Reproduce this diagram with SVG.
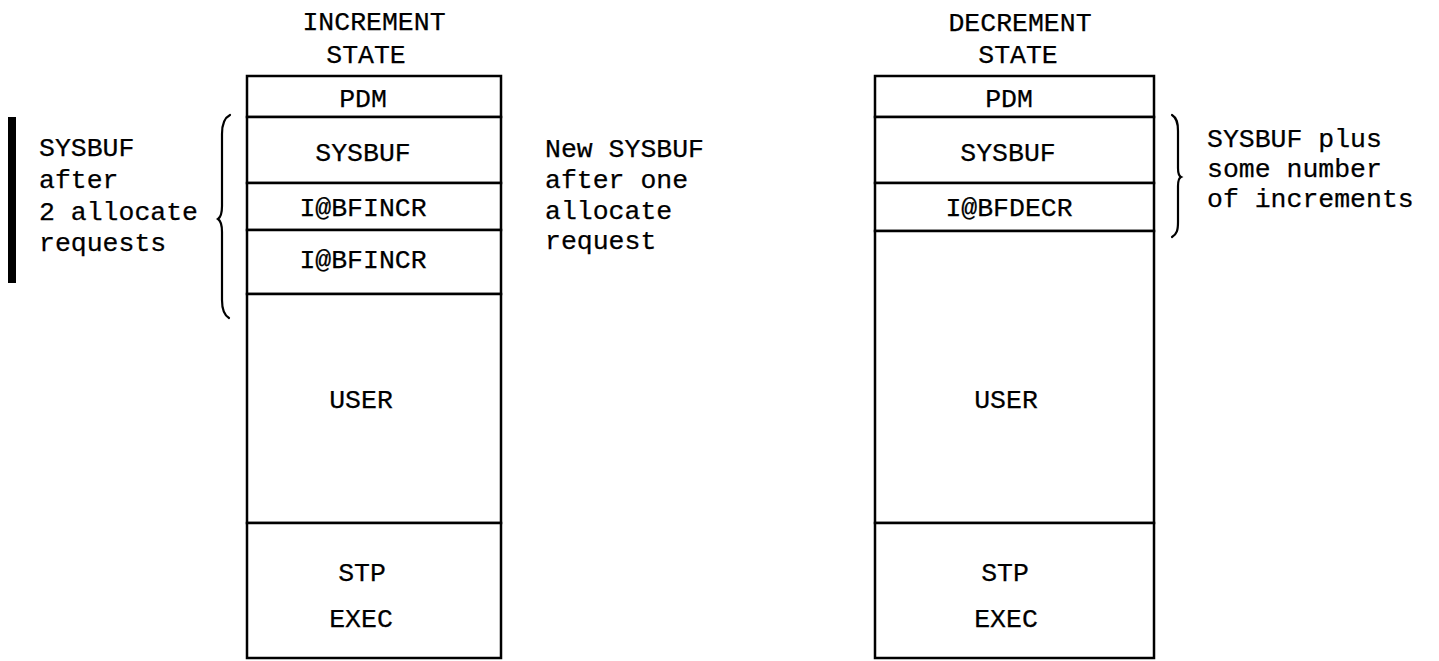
<svg xmlns="http://www.w3.org/2000/svg" width="1439" height="661" viewBox="0 0 1439 661">
<style>
  .cell { fill: #fff; stroke: #000; stroke-width: 2.5; }
  .t { font-family: "Liberation Mono", "Courier New", monospace; font-size: 26.5px; fill: #000; stroke: #000; stroke-width: 0.25; }
  .c { text-anchor: middle; }
  .brace { fill: none; stroke: #000; stroke-width: 2.2; stroke-linecap: round; }
</style>
<rect width="1439" height="661" fill="#fff"/>

<!-- Titles -->
<g id="title-increment">
  <text class="t c" x="374" y="30">INCREMENT</text>
  <text class="t c" x="366" y="63">STATE</text>
</g>
<g id="title-decrement">
  <text class="t c" x="1020" y="31">DECREMENT</text>
  <text class="t c" x="1018" y="63">STATE</text>
</g>

<!-- Left stack -->
<g id="inc-pdm"><rect class="cell" x="247" y="76" width="254" height="41"/><text class="t c" x="363" y="107">PDM</text></g>
<g id="inc-sysbuf"><rect class="cell" x="247" y="117" width="254" height="66"/><text class="t c" x="363" y="161">SYSBUF</text></g>
<g id="inc-incr1"><rect class="cell" x="247" y="183" width="254" height="47"/><text class="t c" x="363" y="216">I@BFINCR</text></g>
<g id="inc-incr2"><rect class="cell" x="247" y="230" width="254" height="64"/><text class="t c" x="363" y="268">I@BFINCR</text></g>
<g id="inc-user"><rect class="cell" x="247" y="294" width="254" height="229"/><text class="t c" x="361" y="408">USER</text></g>
<g id="inc-exec"><rect class="cell" x="247" y="523" width="254" height="135"/><text class="t c" x="362" y="581">STP</text><text class="t c" x="361" y="627">EXEC</text></g>

<!-- Right stack -->
<g id="dec-pdm"><rect class="cell" x="875" y="76" width="279" height="41"/><text class="t c" x="1009" y="107">PDM</text></g>
<g id="dec-sysbuf"><rect class="cell" x="875" y="117" width="279" height="66"/><text class="t c" x="1008" y="161">SYSBUF</text></g>
<g id="dec-decr"><rect class="cell" x="875" y="183" width="279" height="48"/><text class="t c" x="1009" y="216">I@BFDECR</text></g>
<g id="dec-user"><rect class="cell" x="875" y="231" width="279" height="292"/><text class="t c" x="1006" y="408">USER</text></g>
<g id="dec-exec"><rect class="cell" x="875" y="523" width="279" height="135"/><text class="t c" x="1005" y="581">STP</text><text class="t c" x="1006" y="627">EXEC</text></g>

<!-- Side notes -->
<g id="note-left">
  <rect x="8" y="117" width="8" height="166" fill="#000"/>
  <text class="t" x="39" y="156">SYSBUF</text>
  <text class="t" x="39" y="188">after</text>
  <text class="t" x="39" y="220">2 allocate</text>
  <text class="t" x="39" y="251">requests</text>
</g>
<g id="note-middle">
  <text class="t" x="545" y="157">New SYSBUF</text>
  <text class="t" x="545" y="188">after one</text>
  <text class="t" x="545" y="219">allocate</text>
  <text class="t" x="545" y="249">request</text>
</g>
<g id="note-right">
  <text class="t" x="1207" y="147">SYSBUF plus</text>
  <text class="t" x="1207" y="177">some number</text>
  <text class="t" x="1207" y="207">of increments</text>
</g>

<!-- Braces -->
<g id="connectors">
  <path class="brace" d="M230,115 C224,118 222,124 222,134 L222,206 C222,213 221,217 218,219 C221,221 222,225 222,232 L222,300 C222,310 224,315 229,318"/>
  <path class="brace" d="M1172,115 C1177,118 1178,123 1178,131 L1178,168 C1178,173 1179,176 1181,177 C1179,178 1178,181 1178,186 L1178,222 C1178,230 1177,234 1172,237"/>
</g>
</svg>
